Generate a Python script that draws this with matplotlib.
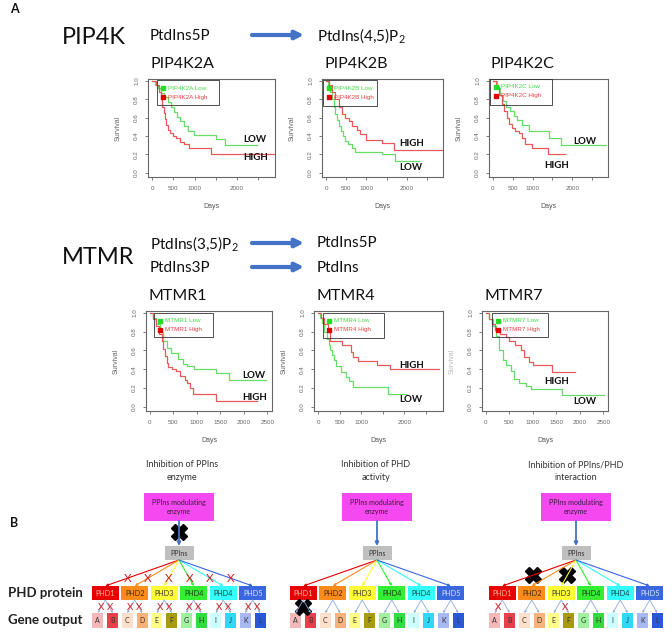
import matplotlib
matplotlib.use('Agg')
import matplotlib.pyplot as plt
from matplotlib.patches import Rectangle

plt.rcParams['mathtext.fontset'] = 'custom'
plt.rcParams['mathtext.rm'] = 'Lato'

W, H = 672, 635
fig = plt.figure(figsize=(6.72, 6.35), dpi=100)

# ---------------- data: survival curves (days, survival fraction) ----------------
pip4k2a_low_t = [0, 60, 130, 200, 280, 370, 450, 520, 590, 660, 750, 850, 980, 1500, 1720, 2480]
pip4k2a_low_s = [1, 0.96, 0.92, 0.87, 0.82, 0.77, 0.72, 0.66, 0.61, 0.56, 0.51, 0.46, 0.41, 0.37, 0.30, 0.30]
pip4k2a_high_t = [0, 80, 150, 200, 240, 270, 300, 330, 370, 420, 480, 560, 650, 760, 860, 1380, 2890]
pip4k2a_high_s = [1, 0.95, 0.88, 0.80, 0.72, 0.65, 0.58, 0.52, 0.47, 0.43, 0.40, 0.38, 0.34, 0.31, 0.27, 0.21, 0.21]

pip4k2b_low_t = [0, 50, 100, 150, 190, 230, 270, 310, 360, 410, 470, 540, 640, 730, 1390, 1720, 2300]
pip4k2b_low_s = [1, 0.94, 0.88, 0.80, 0.72, 0.64, 0.57, 0.51, 0.45, 0.40, 0.35, 0.31, 0.27, 0.23, 0.20, 0.13, 0.13]
pip4k2b_high_t = [0, 70, 150, 230, 320, 400, 480, 560, 650, 760, 850, 980, 1390, 1690, 2890]
pip4k2b_high_s = [1, 0.95, 0.88, 0.80, 0.72, 0.64, 0.60, 0.56, 0.51, 0.47, 0.42, 0.36, 0.32, 0.25, 0.25]

pip4k2c_low_t = [0, 100, 180, 250, 330, 420, 530, 610, 730, 900, 1420, 1710, 2860]
pip4k2c_low_s = [1, 0.92, 0.85, 0.78, 0.72, 0.67, 0.62, 0.57, 0.52, 0.45, 0.38, 0.30, 0.30]
pip4k2c_high_t = [0, 80, 160, 220, 290, 350, 410, 480, 560, 650, 740, 810, 980, 1380, 1810]
pip4k2c_high_s = [1, 0.93, 0.85, 0.75, 0.67, 0.60, 0.53, 0.49, 0.46, 0.43, 0.38, 0.31, 0.27, 0.20, 0.20]

mtmr1_low_t = [0, 60, 130, 210, 280, 370, 460, 600, 700, 790, 950, 1410, 1690, 2465]
mtmr1_low_s = [1, 0.95, 0.88, 0.80, 0.70, 0.63, 0.57, 0.51, 0.46, 0.43, 0.40, 0.36, 0.29, 0.29]
mtmr1_high_t = [0, 60, 130, 200, 250, 290, 320, 360, 390, 470, 560, 650, 740, 800, 850, 915, 1410, 2290]
mtmr1_high_s = [1, 0.93, 0.86, 0.78, 0.70, 0.62, 0.54, 0.47, 0.42, 0.40, 0.38, 0.33, 0.29, 0.25, 0.20, 0.14, 0.06, 0.06]

mtmr4_low_t = [0, 40, 90, 140, 200, 240, 280, 320, 360, 420, 520, 640, 720, 800, 1610, 2050]
mtmr4_low_s = [1, 0.95, 0.89, 0.80, 0.72, 0.66, 0.60, 0.55, 0.50, 0.43, 0.37, 0.32, 0.27, 0.21, 0.14, 0.14]
mtmr4_high_t = [0, 60, 140, 220, 280, 560, 760, 800, 915, 1370, 1670, 2800]
mtmr4_high_s = [1, 0.95, 0.88, 0.80, 0.70, 0.66, 0.58, 0.53, 0.49, 0.44, 0.40, 0.40]

mtmr7_low_t = [0, 70, 150, 215, 285, 360, 430, 535, 600, 715, 860, 965, 1630, 2510]
mtmr7_low_s = [1, 0.93, 0.86, 0.75, 0.60, 0.50, 0.44, 0.38, 0.30, 0.25, 0.22, 0.19, 0.13, 0.13]
mtmr7_high_t = [0, 60, 130, 200, 300, 420, 500, 620, 750, 820, 930, 1000, 1415, 1890]
mtmr7_high_s = [1, 0.94, 0.88, 0.82, 0.78, 0.74, 0.70, 0.66, 0.60, 0.53, 0.48, 0.45, 0.37, 0.37]

x_ticks = [0, 500, 1000, 1500, 2000, 2500]
x_labels_short = ['0', '500', '1000', '', '2000', '']
x_labels_full = ['0', '500', '1000', '1500', '2000', '2500']
y_ticks = [0, 0.2, 0.4, 0.6, 0.8, 1.0]
y_labels = ['0.0', '0.2', '0.4', '0.6', '0.8', '1.0']

# panel B categories
phd_labels = ['PHD1', 'PHD2', 'PHD3', 'PHD4', 'PHD4', 'PHD5']
phd_colors = ['#E60000', '#FF8C1A', '#FFFF33', '#33EE33', '#33FFFF', '#3A66E0']
phd_text_colors = ['#FFB8A0', '#3A2A10', '#333333', '#1A3A1A', '#1A3A3A', '#DDE6FF']
gene_labels = ['A', 'B', 'C', 'D', 'E', 'F', 'G', 'H', 'I', 'J', 'K', 'L']
gene_colors = ['#F4B8B8', '#E8404A', '#FCE0CC', '#F8B27A', '#FFFF88', '#A89A10',
               '#A0F0A0', '#30DD40', '#CCFFFF', '#30D8F8', '#A8B8F0', '#2858D8']
panel_titles = ['Inhibition of PPIns\nenzyme', 'Inhibition of PHD\nactivity',
                'Inhibition of PPIns/PHD\ninteraction']

GREEN = '#66DD66'
RED = '#E85A5A'

# ---------------- layout ----------------
plots = [
    dict(name='PIP4K2A', box=(148, 79, 275, 177), xlim=(-100, 2900), xl=x_labels_short,
         low=(pip4k2a_low_t, pip4k2a_low_s), high=(pip4k2a_high_t, pip4k2a_high_s),
         leg=(157, 80, 219, 105), lowpos=(243, 140), highpos=(243, 158), surv='#666'),
    dict(name='PIP4K2B', box=(322, 79, 443, 177), xlim=(-100, 2900), xl=x_labels_short,
         low=(pip4k2b_low_t, pip4k2b_low_s), high=(pip4k2b_high_t, pip4k2b_high_s),
         leg=(323, 80, 377, 106), lowpos=(399, 168), highpos=(399, 143), surv='#666'),
    dict(name='PIP4K2C', box=(489, 79, 608, 177), xlim=(-100, 2900), xl=x_labels_short,
         low=(pip4k2c_low_t, pip4k2c_low_s), high=(pip4k2c_high_t, pip4k2c_high_s),
         leg=(490, 79, 552, 105), lowpos=(573, 142), highpos=(544, 165), surv='#666'),
    dict(name='MTMR1', box=(146, 311, 272, 411), xlim=(-80, 2600), xl=x_labels_full,
         low=(mtmr1_low_t, mtmr1_low_s), high=(mtmr1_high_t, mtmr1_high_s),
         leg=(154, 313, 213, 337), lowpos=(242, 375), highpos=(242, 397), surv='#666'),
    dict(name='MTMR4', box=(314, 311, 443, 411), xlim=(-100, 2900), xl=x_labels_short,
         low=(mtmr4_low_t, mtmr4_low_s), high=(mtmr4_high_t, mtmr4_high_s),
         leg=(323, 313, 384, 338), lowpos=(399, 400), highpos=(399, 366), surv='#666'),
    dict(name='MTMR7', box=(482, 311, 608, 411), xlim=(-80, 2600), xl=x_labels_full,
         low=(mtmr7_low_t, mtmr7_low_s), high=(mtmr7_high_t, mtmr7_high_s),
         leg=(492, 313, 548, 337), lowpos=(573, 402), highpos=(544, 381), surv='#bbb'),
]

def px_axes(l, t, r, b):
    return fig.add_axes([l / W, 1 - b / H, (r - l) / W, (b - t) / H])

for p in plots:
    l, t, r, b = p['box']
    ax = px_axes(l, t, r, b)
    ax.step(p['low'][0], p['low'][1], where='post', color=GREEN, lw=0.9)
    ax.step(p['high'][0], p['high'][1], where='post', color=RED, lw=0.9)
    ax.set_xlim(*p['xlim'])
    ax.set_ylim(-0.045, 1.02)
    ax.set_xticks(x_ticks)
    ax.set_xticklabels(p['xl'], family='Liberation Sans')
    ax.set_yticks(y_ticks)
    ax.set_yticklabels(y_labels, rotation=90, va='center', family='Liberation Sans')
    ax.tick_params(length=2.5, width=0.6, color='#666', labelsize=4.5,
                   labelcolor='#666', pad=4)
    for sp in ax.spines.values():
        sp.set_color('#666')
        sp.set_linewidth(0.8)

# overlay for text & diagrams (on top)
ov = fig.add_axes([0, 0, 1, 1])
ov.set_xlim(0, W)
ov.set_ylim(H, 0)
ov.axis('off')
ov.patch.set_alpha(0)

LATO = 'Lato'
BLUE = '#4472C4'

def T(x, y, s, **kw):
    kw.setdefault('family', LATO)
    kw.setdefault('va', 'center')
    ov.text(x, y, s, **kw)

def arrow(x0, y0, x1, y1, color, lw, ms):
    ov.annotate('', xy=(x1, y1), xytext=(x0, y0),
                arrowprops=dict(arrowstyle='-|>', color=color, lw=lw,
                                mutation_scale=ms, shrinkA=0, shrinkB=0))

# plot annotations
for p in plots:
    l, t, r, b = p['box']
    T(p['box'][0] + 2, t - 15, p['name'], fontsize=11.5, color='#111')
    T((l + r) / 2, b + 30, 'Days', fontsize=5, color='#555', ha='center', family='Liberation Sans')
    T(l - 30, (t + b) / 2, 'Survival', fontsize=5, color=p['surv'], ha='center',
      rotation=90, family='Liberation Sans')
    T(p['lowpos'][0], p['lowpos'][1], 'LOW', fontsize=7, weight='bold', color='#111')
    T(p['highpos'][0], p['highpos'][1], 'HIGH', fontsize=7, weight='bold', color='#111')
    ll, lt, lr, lb = p['leg']
    ov.add_patch(Rectangle((ll, lt), lr - ll, lb - lt, fill=False, ec='#333', lw=0.6))
    ov.plot(ll + 6, lt + 8, 's', color='#22DD22', ms=2.5)
    ov.plot(ll + 6, lt + 17, 's', color='#E00000', ms=2.5)
    T(ll + 11, lt + 8, p['name'] + ' Low', fontsize=4.5, color='#44DD44', family='Liberation Sans')
    T(ll + 11, lt + 17, p['name'] + ' High', fontsize=4.5, color='#E84040', family='Liberation Sans')

# headers
T(10, 9, 'A', fontsize=9, weight='bold', color='#111')
T(62, 38, 'PIP4K', fontsize=17, color='#111')
T(150, 36, 'PtdIns5P', fontsize=11, color='#111')
arrow(252, 35, 304, 35, BLUE, 3, 12)
T(317, 36, r'PtdIns(4,5)P$_{\mathregular{2}}$', fontsize=11, color='#111')

T(62, 258, 'MTMR', fontsize=17, color='#111')
T(150, 244, r'PtdIns(3,5)P$_{\mathregular{2}}$', fontsize=11, color='#111')
T(150, 268, 'PtdIns3P', fontsize=11, color='#111')
arrow(252, 243, 304, 243, BLUE, 3, 12)
arrow(252, 267, 304, 267, BLUE, 3, 12)
T(317, 243, 'PtdIns5P', fontsize=11, color='#111')
T(317, 268, 'PtdIns', fontsize=11, color='#111')

# ---------------- panel B ----------------
T(10, 523, 'B', fontsize=9, weight='bold', color='#111')
T(8, 593, 'PHD protein', fontsize=9.5, weight='bold', color='#222')
T(8, 620, 'Gene output', fontsize=9.5, weight='bold', color='#222')

centers = [179, 377, 576]
title_x = [182, 376, 576]
PH_SP = 29.5
for d, cx in enumerate(centers):
    T(title_x[d], 471, panel_titles[d], fontsize=6.5, color='#333', ha='center',
      linespacing=1.5)
    # enzyme box
    ov.add_patch(Rectangle((cx - 35, 493), 70, 28, fc='#F548F0', ec='none'))
    T(cx, 507, 'PPIns modulating\nenzyme', fontsize=5, color='#3A1A3A', ha='center',
      linespacing=1.4)
    arrow(cx, 521, cx, 546, BLUE, 1.3, 5)
    ov.add_patch(Rectangle((cx - 14.5, 546), 29, 14, fc='#BFBFBF', ec='none'))
    T(cx, 553, 'PPIns', fontsize=5, color='#333', ha='center')
    for i, (lab, col) in enumerate(zip(phd_labels, phd_colors)):
        px = cx + (i - 2.5) * PH_SP
        arrow(cx, 560, px, 586, col, 0.8, 3.5)
        ov.add_patch(Rectangle((px - 13.5, 586), 27, 14, fc=col, ec='none'))
        T(px, 593.5, lab, fontsize=5.2, color=phd_text_colors[i], ha='center')
        for k, off in enumerate((-7.5, 7.5)):
            g = 2 * i + k
            gx = px + off
            arrow(px, 600, gx, 613, '#8FAADC', 0.6, 2.5)
            ov.add_patch(Rectangle((gx - 5.5, 613), 11, 15, fc=gene_colors[g], ec='none'))
            T(gx, 620.5, gene_labels[g], fontsize=5, color='#333', ha='center')
            if d == 0:
                T(px + off * 0.6, 607, 'X', fontsize=7, color='#D02020', ha='center')
        if d == 0:
            fx = cx + 0.7 * (px - cx)
            T(fx, 578, 'X', fontsize=8.5, color='#D02020', ha='center')

# inhibition marks
ov.plot(centers[0], 532, 'X', color='black', ms=11)
ov.plot(centers[1] - 2.5 * PH_SP, 607, 'X', color='black', ms=11)
c3 = centers[2]
for i in (0, 2):
    px = c3 + (i - 2.5) * PH_SP
    ov.plot(c3 + 0.58 * (px - c3), 575, 'X', color='black', ms=11)
T(c3 - 2.5 * PH_SP - 3.75, 607, 'X', fontsize=7, color='#D02020', ha='center')
T(c3 - 0.5 * PH_SP + 3.75, 607, 'X', fontsize=7, color='#D02020', ha='center')

fig.savefig('out.png', dpi=100)
